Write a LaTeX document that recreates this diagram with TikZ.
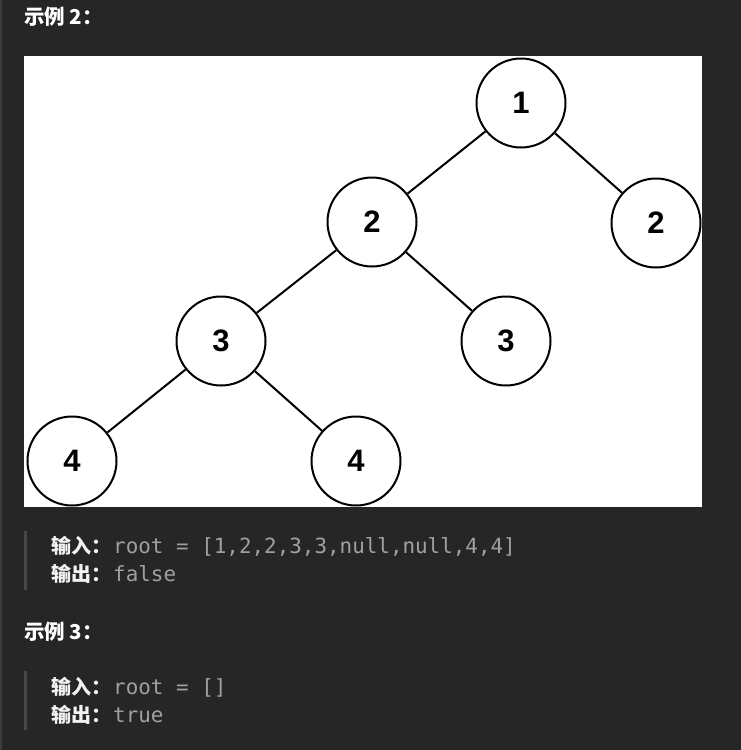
\documentclass[tikz,border=0pt]{standalone}
\usepackage{fontspec}
\setmainfont{Liberation Sans}
\newfontfamily\cjkfont{Noto Sans CJK SC}
\newfontfamily\monofont{DejaVu Sans Mono}
\newfontfamily\digitfont{Liberation Sans}
\definecolor{bgcol}{HTML}{262626}
\definecolor{stripcol}{HTML}{3C3C3C}
\definecolor{barcol}{HTML}{474747}
\definecolor{codegray}{HTML}{A0A0A0}
\definecolor{keywhite}{HTML}{F2F2F2}
\begin{document}
\begin{tikzpicture}[x=1pt,y=-1pt,
  treenode/.style={circle,draw=black,line width=2pt,fill=white,minimum size=89pt,inner sep=0pt,
    font=\digitfont\bfseries\fontsize{31}{31}\selectfont},
  treeedge/.style={line width=2pt,draw=black},
  heading/.style={anchor=base west,inner sep=0pt,text=white,font=\cjkfont\bfseries\fontsize{20.5}{20.5}\selectfont},
  keytext/.style={anchor=base west,inner sep=0pt,text=keywhite,font=\cjkfont\bfseries\fontsize{20}{20}\selectfont},
  valtext/.style={anchor=base west,inner sep=0pt,text=codegray,font=\monofont\fontsize{20.9}{20.9}\selectfont},
  quotebar/.style={fill=barcol,draw=none}]
\useasboundingbox (0,0) rectangle (741,750);
\fill[bgcol] (0,0) rectangle (741,750);
\fill[stripcol] (0,0) rectangle (2,750);
\fill[white] (24,56) rectangle (702,507);
\begin{scope}
\clip (24,56) rectangle (702,507);
\node[treenode] (n1) at (521,103) {1};
\node[treenode] (n2a) at (372,222) {2};
\node[treenode] (n2b) at (656,223) {2};
\node[treenode] (n3a) at (221,341) {3};
\node[treenode] (n3b) at (506,341) {3};
\node[treenode] (n4a) at (72,461) {4};
\node[treenode] (n4b) at (356,461) {4};
\draw[treeedge] (n1) -- (n2a);
\draw[treeedge] (n1) -- (n2b);
\draw[treeedge] (n2a) -- (n3a);
\draw[treeedge] (n2a) -- (n3b);
\draw[treeedge] (n3a) -- (n4a);
\draw[treeedge] (n3a) -- (n4b);
\end{scope}
\node[heading] (h2) at (24,24) {示例 2：};
\fill[quotebar] (24,531) rectangle (27,590);
\node[keytext] (k1) at (51,553) {输入：};
\node[valtext] (v1) at (113,553) {root = [1,2,2,3,3,null,null,4,4]};
\node[keytext] (k2) at (51,581) {输出：};
\node[valtext] (v2) at (113,581) {false};
\node[heading] (h3) at (24,639) {示例 3：};
\fill[quotebar] (24,671) rectangle (27,730);
\node[keytext] (k3) at (51,694) {输入：};
\node[valtext] (v3) at (113,694) {root = []};
\node[keytext] (k4) at (51,722) {输出：};
\node[valtext] (v4) at (113,722) {true};
\end{tikzpicture}
\end{document}
